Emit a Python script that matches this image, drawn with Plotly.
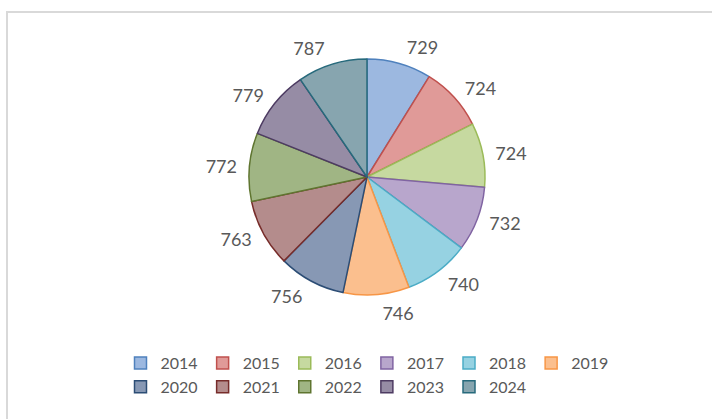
import plotly.graph_objects as go

# ---- data ----
years = ["2014", "2015", "2016", "2017", "2018", "2019",
         "2020", "2021", "2022", "2023", "2024"]
values = [729, 724, 724, 732, 740, 746, 756, 763, 772, 779, 787]

fill_colors = ["#9cb8e0", "#e09a98", "#c6d9a0", "#b8a6cc", "#96d2e2", "#fbbf8e",
               "#8798b4", "#b48c8c", "#a0b584", "#968ca5", "#87a5af"]
line_colors = ["#4f81bd", "#c0504d", "#9bbb59", "#8064a2", "#4bacc6", "#f79646",
               "#2c4d75", "#772c2a", "#5f7530", "#4d3b62", "#276a7c"]

# ---- layout geometry (pixels) ----
W, H = 712, 419
ML, MR, MT, MB = 107, 85, 0, 0
GW, GH = W - ML - MR, H - MT - MB
CX, CY = 367, 177          # pie centre
R_PIE, R_TXT = 118, 125    # pie radius, radius used for label placement


def dom(r):
    x = [(CX - r - ML) / GW, (CX + r - ML) / GW]
    yb = H - CY - MB
    y = [(yb - r) / GH, (yb + r) / GH]
    return dict(x=x, y=y)


def px_x(p):
    return (p - ML) / GW


def px_y(p):
    return (H - MB - p) / GH


fig = go.Figure()

fig.add_trace(go.Pie(
    labels=years, values=values, sort=False, direction="clockwise",
    domain=dom(R_PIE),
    marker=dict(colors=fill_colors, line=dict(color=line_colors, width=1.5)),
    textinfo="none", showlegend=True, hoverinfo="label+value",
))

fig.add_trace(go.Pie(
    labels=years, values=values, sort=False, direction="clockwise",
    domain=dom(R_TXT),
    marker=dict(colors=["rgba(0,0,0,0)"] * len(years),
                line=dict(color="rgba(0,0,0,0)", width=0)),
    textinfo="value", textposition="outside",
    outsidetextfont=dict(family="Lato, 'Open Sans', sans-serif", size=18, color="#595959"),
    showlegend=False, hoverinfo="skip",
))

fig.add_shape(type="rect", xref="paper", yref="paper",
              x0=px_x(7), x1=px_x(W + 10), y0=px_y(12), y1=px_y(H + 10),
              line=dict(color="#d9d9d9", width=2), fillcolor="rgba(0,0,0,0)",
              layer="below")

fig.update_layout(
    width=W, height=H,
    margin=dict(l=ML, r=MR, t=MT, b=MB),
    paper_bgcolor="white", plot_bgcolor="white",
    font=dict(family="Lato, 'Open Sans', sans-serif", color="#595959"),
    legend=dict(orientation="h", x=0.5, xanchor="center",
                y=px_y(346), yanchor="top",
                font=dict(size=16, color="#595959"),
                bgcolor="rgba(0,0,0,0)"),
)

fig.write_html("out.html",
               config={"displayModeBar": False},
               post_script="document.body.style.margin='0';document.body.style.overflow='hidden';")
